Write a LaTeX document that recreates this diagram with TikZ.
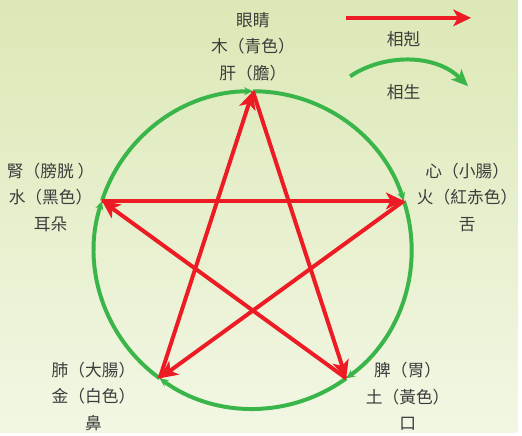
\documentclass[tikz,border=0pt]{standalone}
\usepackage{fontspec}
\setmainfont{Noto Sans CJK TC}
\usetikzlibrary{positioning,arrows.meta,calc}
\definecolor{keRed}{HTML}{ED1C24}
\definecolor{shengGreen}{HTML}{3AB54A}
\definecolor{bgTop}{HTML}{DCE8B6}
\definecolor{bgBottom}{HTML}{F2F7E4}
\definecolor{labelInk}{HTML}{3C3C3C}

\begin{document}
\begin{tikzpicture}[scale=1.0, >=Stealth,
    keArrow/.style={keRed, line width=0.1cm, -{Stealth[length=0.45cm, width=0.42cm, inset=0.12cm]}},
    shengArc/.style={shengGreen, line width=0.1cm, -{Stealth[length=0.22cm, width=0.2cm]}},
    organ/.style={labelInk, font=\fontsize{12}{19.2}\selectfont, align=center}]
        % background
        \shade[top color=bgTop, bottom color=bgBottom] (-6.375,-4.6) rectangle (6.675,6.3);
        % the five elements on the circle
        \coordinate (wood) at (90:4);
        \coordinate (fire) at (18:4);
        \coordinate (earth) at (-54:4);
        \coordinate (metal) at (-126:4);
        \coordinate (water) at (-198:4);
        % sheng cycle
        \foreach \from/\ang in {wood/90, fire/18, earth/-54, metal/-126, water/-198}
          \draw[shengArc] (\from) arc[start angle=\ang, end angle=\ang-72, radius=4];
        % ke cycle
        \draw[keArrow] (wood) -- (earth);
        \draw[keArrow] (earth) -- (water);
        \draw[keArrow] (water) -- (fire);
        \draw[keArrow] (fire) -- (metal);
        \draw[keArrow] (metal) -- (wood);
        % labels
        \node[organ] (woodText) at (0,5.125) {眼睛\\木（青色）\\肝（膽）};
        \node[organ] (fireText) at (5.4,1.325) {心（小腸）\\火（紅赤色）\\舌};
        \node[organ] (earthText) at (3.9,-3.69) {脾（胃）\\土（黃色）\\口};
        \node[organ] (metalText) at (-4.02,-3.69) {肺（大腸）\\金（白色）\\鼻};
        \node[organ] (waterText) at (-5.1,1.325) {腎（膀胱 ）\\水（黑色）\\耳朵};
        % legend
        \coordinate (keStart) at (2.35,5.85);
        \coordinate (keEnd) at (5.5,5.85);
        \draw[keArrow] (keStart) -- (keEnd);
        \node[organ] (keLabel) at (3.8,5.3) {相剋};
        \coordinate (shengStart) at (2.45,4.375);
        \coordinate (shengEnd) at (5.425,4.125);
        \draw[shengArc, -{Stealth[length=0.42cm, width=0.36cm, inset=0.1cm]}] (shengStart) .. controls (3.3,4.95) and (4.6,4.95) .. (shengEnd);
        \node[organ] (shengLabel) at (3.8,3.975) {相生};
      \end{tikzpicture}
\end{document}
